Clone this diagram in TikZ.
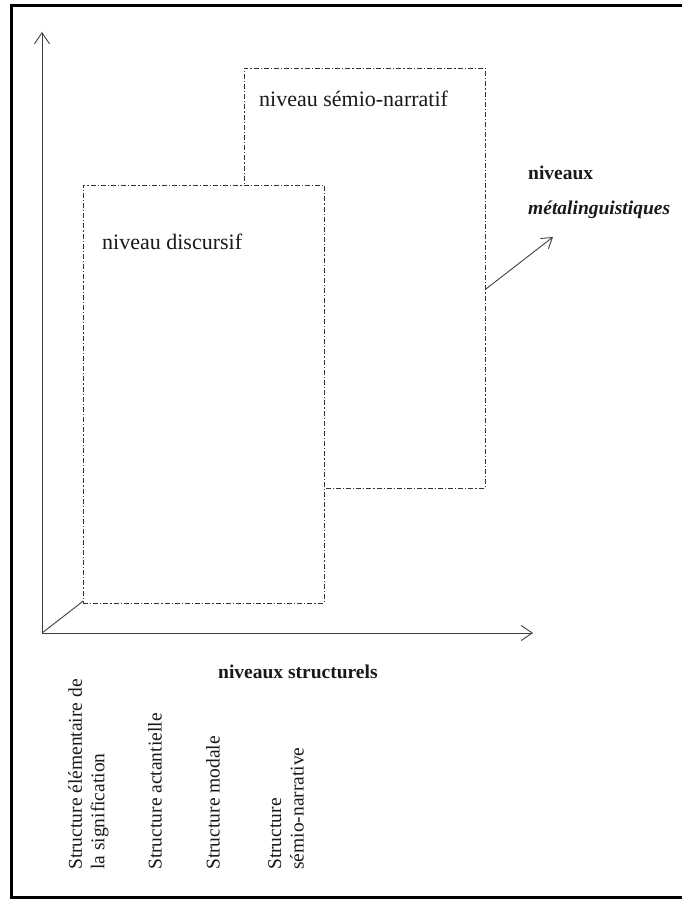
\documentclass[tikz,border=0pt]{standalone}
\usepackage{fontspec}
\setmainfont{Liberation Serif}
\usetikzlibrary{arrows.meta}
\begin{document}
\begin{tikzpicture}[x=1pt,y=-1pt,
  axisline/.style={draw=black!75, line width=0.9pt, -{Straight Barb[length=11pt,width=15pt,line width=0.9pt]}},
  diagline/.style={draw=black!75, line width=0.9pt},
  levelbox/.style={draw=black!80, fill=white, line width=0.9pt, dash pattern=on 5pt off 2pt on 1.2pt off 2pt, rectangle, inner sep=0pt, outer sep=0pt, anchor=north west},
  boxtext/.style={font=\fontsize{22}{26}\selectfont, text=black!90, inner sep=0pt, anchor=base west},
  boldtext/.style={font=\fontsize{19.5}{23}\selectfont\bfseries, text=black!90, inner sep=0pt, anchor=base west},
  rottext/.style={font=\fontsize{19.5}{22.5}\selectfont, text=black!90, inner sep=0pt, rotate=90, anchor=north west, align=left},
  frameline/.style={draw=black, line width=3.5pt}
]
\useasboundingbox (0,0) rectangle (682,899);
% frame (right side cut off)
\draw[frameline] (690,5.5) -- (11.5,5.5) -- (11.5,897.5) -- (690,897.5);

% coordinates
\coordinate (O) at (42,633);
\coordinate (Ytip) at (42,32);
\coordinate (Xtip) at (533,633);
\coordinate (Dtip) at (553,237);

% diagonal (passes behind the boxes)
\draw[diagline, -{Straight Barb[length=10pt,width=13pt,line width=0.9pt]}] (O) -- (Dtip);

% boxes
\node[levelbox, minimum width=241pt, minimum height=420pt] (semio) at (244,68) {};
\node[levelbox, minimum width=241pt, minimum height=418pt] (discursif) at (83,185) {};

% axes
\draw[axisline] (O) -- (Ytip);
\draw[axisline] (O) -- (Xtip);

% box labels
\node[boxtext] (tsemio) at (259,106) {niveau sémio-narratif};
\node[boxtext] (tdisc) at (102,249) {niveau discursif};

% metalinguistic label
\node[boldtext] (tniv) at (528,179) {niveaux};
\node[boldtext, font=\fontsize{19.5}{23}\selectfont\bfseries\itshape] (tmeta) at (528,214) {métalinguistiques};

% structural label
\node[boldtext] (tstruct) at (218,678) {niveaux structurels};

% rotated labels
\node[rottext] (r1) at (68,870) {Structure élémentaire de\\la signification};
\node[rottext] (r2) at (148,870) {Structure actantielle};
\node[rottext] (r3) at (206,870) {Structure modale};
\node[rottext] (r4) at (268,870) {Structure\\sémio-narrative};
\end{tikzpicture}
\end{document}
